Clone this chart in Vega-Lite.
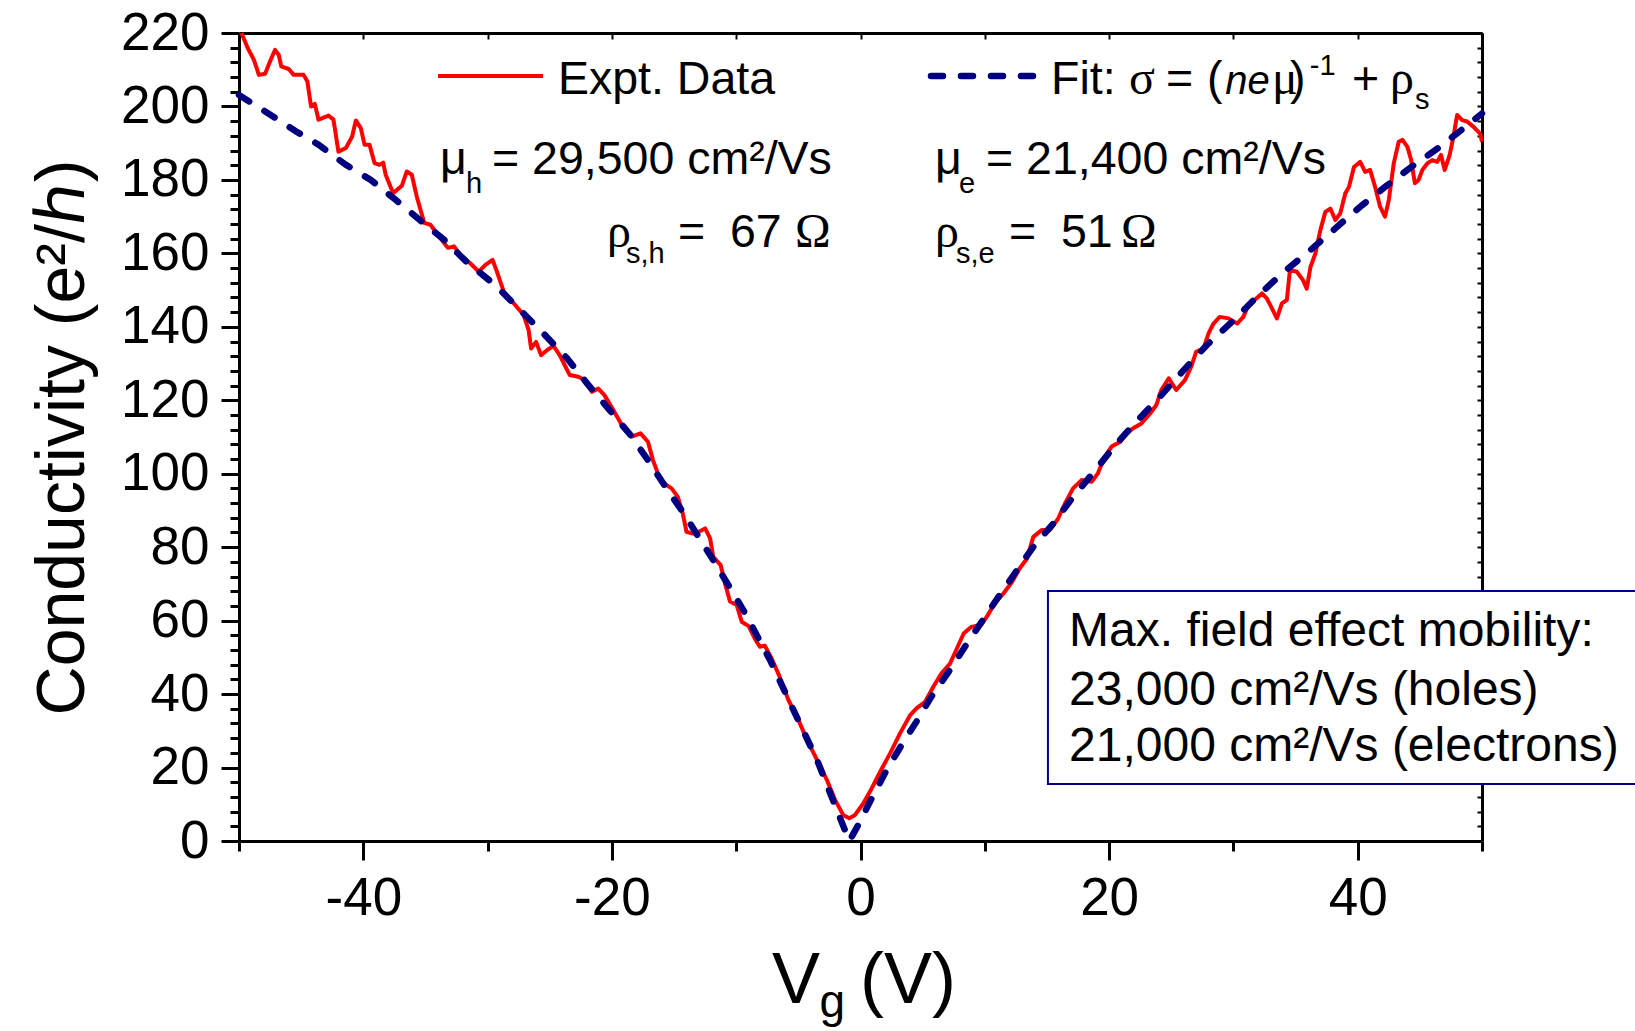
{
  "$schema": "https://vega.github.io/schema/vega-lite/v6.json",
  "width": 1243,
  "height": 808,
  "autosize": "none",
  "padding": {"left": 239, "top": 33, "right": 153, "bottom": 190},
  "background": "white",
  "config": {"view": {"stroke": null}, "font": "Liberation Sans"},
  "datasets": {
    "expt": [
      {"x":-49.8,"y":220},{"x":-49.3,"y":215.9},{"x":-48.8,"y":212.7},{"x":-48.4,"y":208.6},{"x":-47.9,"y":208.9},{"x":-47.45,"y":212.7},{"x":-47.1,"y":215.4},{"x":-46.8,"y":214.0},{"x":-46.6,"y":210.9},{"x":-46.0,"y":210.2},{"x":-45.6,"y":208.6},{"x":-44.8,"y":208.6},{"x":-44.5,"y":206.8},{"x":-44.2,"y":200.0},{"x":-43.9,"y":200.7},{"x":-43.6,"y":196.4},{"x":-42.8,"y":197.5},{"x":-42.4,"y":196.4},{"x":-42.0,"y":187.7},{"x":-41.4,"y":188.7},{"x":-40.9,"y":191.8},{"x":-40.6,"y":196.2},{"x":-40.2,"y":194.1},{"x":-39.9,"y":189.6},{"x":-39.5,"y":189.6},{"x":-39.1,"y":184.6},{"x":-38.7,"y":184.1},{"x":-38.4,"y":184.7},{"x":-38.2,"y":181.4},{"x":-37.6,"y":176.4},{"x":-36.9,"y":178.4},{"x":-36.5,"y":182.3},{"x":-36.1,"y":181.4},{"x":-35.7,"y":175.5},{"x":-35.1,"y":168.3},{"x":-34.6,"y":167.8},{"x":-33.9,"y":164.6},{"x":-33.2,"y":161.5},{"x":-32.7,"y":161.9},{"x":-32.2,"y":159.6},{"x":-31.4,"y":157.3},{"x":-30.7,"y":155.0},{"x":-30.2,"y":156.8},{"x":-29.6,"y":158.2},{"x":-29.3,"y":155.5},{"x":-28.7,"y":149.6},{"x":-27.9,"y":146.4},{"x":-27.1,"y":143.2},{"x":-26.7,"y":139.1},{"x":-26.5,"y":134.1},{"x":-26.1,"y":135.9},{"x":-25.7,"y":132.3},{"x":-25.2,"y":133.7},{"x":-24.7,"y":134.8},{"x":-24.2,"y":132.3},{"x":-23.8,"y":129.6},{"x":-23.4,"y":126.9},{"x":-22.7,"y":126.4},{"x":-22.2,"y":125.5},{"x":-21.6,"y":122.3},{"x":-21.1,"y":123.2},{"x":-20.6,"y":121.4},{"x":-19.9,"y":117.4},{"x":-19.2,"y":113.3},{"x":-18.4,"y":110.1},{"x":-17.7,"y":111.0},{"x":-17.1,"y":108.7},{"x":-16.7,"y":103.7},{"x":-16.1,"y":98.3},{"x":-15.6,"y":96.9},{"x":-15.2,"y":96.0},{"x":-14.7,"y":93.7},{"x":-14.3,"y":89.2},{"x":-14.0,"y":84.2},{"x":-13.5,"y":83.7},{"x":-13.0,"y":84.2},{"x":-12.5,"y":85.1},{"x":-12.1,"y":82.4},{"x":-11.85,"y":77.4},{"x":-11.25,"y":75.1},{"x":-10.9,"y":70.1},{"x":-10.5,"y":65.2},{"x":-9.96,"y":64.3},{"x":-9.56,"y":59.7},{"x":-9.0,"y":58.5},{"x":-8.5,"y":55.1},{"x":-8.1,"y":52.9},{"x":-7.7,"y":53.2},{"x":-7.15,"y":49.7},{"x":-6.5,"y":44.7},{"x":-5.8,"y":38.4},{"x":-5.1,"y":33.8},{"x":-4.3,"y":27.5},{"x":-3.5,"y":22.1},{"x":-2.7,"y":16.6},{"x":-2.05,"y":11.2},{"x":-1.4,"y":7.1},{"x":-0.9,"y":6.2},{"x":-0.44,"y":7.1},{"x":0.22,"y":10.2},{"x":0.9,"y":14.3},{"x":1.57,"y":18.8},{"x":2.37,"y":23.8},{"x":3.18,"y":29.3},{"x":4.0,"y":34.3},{"x":4.5,"y":36.1},{"x":5.2,"y":37.9},{"x":5.86,"y":42.0},{"x":6.5,"y":45.6},{"x":7.2,"y":48.3},{"x":7.7,"y":52.0},{"x":8.3,"y":56.5},{"x":8.9,"y":58.3},{"x":9.7,"y":58.8},{"x":10.15,"y":61.0},{"x":10.8,"y":64.7},{"x":11.5,"y":67.4},{"x":12.2,"y":70.6},{"x":12.8,"y":74.2},{"x":13.4,"y":76.9},{"x":13.9,"y":82.8},{"x":14.6,"y":84.7},{"x":15.25,"y":84.7},{"x":15.9,"y":87.8},{"x":16.45,"y":91.9},{"x":17.1,"y":96.0},{"x":17.8,"y":98.3},{"x":18.6,"y":97.8},{"x":19.1,"y":100.1},{"x":19.6,"y":104.3},{"x":20.2,"y":107.4},{"x":20.9,"y":108.7},{"x":21.4,"y":111.0},{"x":21.9,"y":112.3},{"x":22.6,"y":113.7},{"x":23.3,"y":116.4},{"x":23.8,"y":118.7},{"x":24.2,"y":122.8},{"x":24.8,"y":126.0},{"x":25.4,"y":122.8},{"x":26.1,"y":125.5},{"x":26.6,"y":129.1},{"x":27.0,"y":133.2},{"x":27.6,"y":134.1},{"x":28.0,"y":138.2},{"x":28.4,"y":140.9},{"x":28.9,"y":142.7},{"x":29.6,"y":142.3},{"x":30.3,"y":140.9},{"x":30.8,"y":142.7},{"x":31.2,"y":145.9},{"x":31.7,"y":147.3},{"x":32.3,"y":149.1},{"x":32.7,"y":147.7},{"x":33.1,"y":145.0},{"x":33.5,"y":142.3},{"x":33.9,"y":146.4},{"x":34.3,"y":147.3},{"x":34.55,"y":155.5},{"x":35.1,"y":155.0},{"x":35.6,"y":152.7},{"x":35.9,"y":150.4},{"x":36.2,"y":156.3},{"x":36.6,"y":160.0},{"x":37.0,"y":166.4},{"x":37.4,"y":171.3},{"x":37.8,"y":172.2},{"x":38.2,"y":169.1},{"x":38.6,"y":170.9},{"x":39.0,"y":176.3},{"x":39.3,"y":178.1},{"x":39.7,"y":183.5},{"x":40.2,"y":184.9},{"x":40.6,"y":182.2},{"x":41.0,"y":182.7},{"x":41.4,"y":178.1},{"x":41.8,"y":172.7},{"x":42.2,"y":170.0},{"x":42.5,"y":174.5},{"x":42.9,"y":184.5},{"x":43.3,"y":190.4},{"x":43.6,"y":190.9},{"x":44.0,"y":189.0},{"x":44.3,"y":185.4},{"x":44.6,"y":179.1},{"x":44.9,"y":180.0},{"x":45.2,"y":182.7},{"x":45.6,"y":184.5},{"x":46.0,"y":185.4},{"x":46.4,"y":184.9},{"x":46.7,"y":186.8},{"x":47.0,"y":182.7},{"x":47.4,"y":186.8},{"x":47.7,"y":191.7},{"x":48.0,"y":197.7},{"x":48.4,"y":196.3},{"x":48.8,"y":195.9},{"x":49.3,"y":194.5},{"x":49.85,"y":192.6},{"x":50.0,"y":190.4}
    ],
    "fit": [
      {"x":-50,"y":203.1},{"x":-47.45,"y":197.7},{"x":-45.4,"y":193.2},{"x":-43.6,"y":189.6},{"x":-41.4,"y":184.1},{"x":-39.4,"y":180.0},{"x":-37.4,"y":174.6},{"x":-35.5,"y":169.2},{"x":-33.5,"y":163.7},{"x":-31.7,"y":157.7},{"x":-29.4,"y":151.4},{"x":-27.5,"y":145.0},{"x":-25.4,"y":137.8},{"x":-23.6,"y":131.4},{"x":-22.0,"y":124.6},{"x":-20.2,"y":117.4},{"x":-18.5,"y":110.5},{"x":-17.1,"y":103.7},{"x":-15.6,"y":96.0},{"x":-14.3,"y":89.6},{"x":-11.85,"y":76.5},{"x":-9.43,"y":62.9},{"x":-7.28,"y":49.3},{"x":-5.4,"y":35.7},{"x":-3.5,"y":22.1},{"x":-1.9,"y":8.4},{"x":-0.9,"y":0.0},{"x":-0.18,"y":4.4},{"x":0.9,"y":11.6},{"x":2.1,"y":19.3},{"x":3.3,"y":26.1},{"x":4.5,"y":32.5},{"x":5.7,"y":39.3},{"x":7.1,"y":46.1},{"x":8.4,"y":52.9},{"x":9.75,"y":59.7},{"x":11.1,"y":66.5},{"x":12.4,"y":72.8},{"x":13.9,"y":80.1},{"x":15.5,"y":86.4},{"x":17.1,"y":93.7},{"x":18.9,"y":101.0},{"x":20.5,"y":107.8},{"x":22.2,"y":114.2},{"x":24.1,"y":121.0},{"x":26.0,"y":128.2},{"x":27.85,"y":135.0},{"x":29.9,"y":141.4},{"x":31.9,"y":148.2},{"x":33.9,"y":154.5},{"x":36.2,"y":160.9},{"x":38.2,"y":166.8},{"x":40.2,"y":172.7},{"x":42.2,"y":178.1},{"x":44.3,"y":183.5},{"x":46.4,"y":188.5},{"x":48.5,"y":194.0},{"x":50,"y":198.1}
    ],
    "legExpt": [{"x":-33.99,"y":208.3},{"x":-25.54,"y":208.3}],
    "legFit": [{"x":5.67,"y":208.3},{"x":14.68,"y":208.3}],
    "box": [{"x":15.08,"x2":64,"y":68.1,"y2":15.5}],
    "txtMain": [
      {"x":-24.34,"y":203.4,"text":"Expt. Data"},
      {"x":15.33,"y":203.4,"text":"Fit:"},
      {"x":24.58,"y":203.4,"text":"="},
      {"x":27.88,"y":203.4,"text":"("},
      {"x":34.55,"y":203.4,"text":")"},
      {"x":39.54,"y":203.4,"text":"+"},
      {"x":-33.83,"y":181.6,"text":"μ"},
      {"x":-29.65,"y":181.6,"text":"= 29,500 cm²/Vs"},
      {"x":6.0,"y":181.6,"text":"μ"},
      {"x":10.1,"y":181.6,"text":"= 21,400 cm²/Vs"},
      {"x":-14.68,"y":161.7,"text":"="},
      {"x":-10.5,"y":161.7,"text":"67"},
      {"x":11.95,"y":161.7,"text":"="},
      {"x":16.13,"y":161.7,"text":"51"}
    ],
    "txtBox": [
      {"x":16.78,"y":53.1,"text":"Max. field effect mobility:"},
      {"x":16.78,"y":37.0,"text":"23,000 cm²/Vs (holes)"},
      {"x":16.78,"y":21.8,"text":"21,000 cm²/Vs (electrons)"}
    ],
    "txtSerif": [
      {"x":21.6,"y":203.4,"text":"σ"},
      {"x":33.1,"y":203.4,"text":"μ"},
      {"x":42.6,"y":203.4,"text":"ρ"},
      {"x":-20.4,"y":161.7,"text":"ρ"},
      {"x":6.0,"y":161.7,"text":"ρ"},
      {"x":-5.27,"y":161.7,"text":"Ω"},
      {"x":20.96,"y":161.7,"text":"Ω"}
    ],
    "txtItalic": [{"x":29.35,"y":203.4,"text":"ne"}],
    "txtSmall": [
      {"x":36.15,"y":208.6,"text":"-1"},
      {"x":44.6,"y":199.3,"text":"s"},
      {"x":-31.74,"y":176.4,"text":"h"},
      {"x":7.93,"y":176.4,"text":"e"},
      {"x":-18.87,"y":157.4,"text":"s,h"},
      {"x":7.68,"y":157.4,"text":"s,e"}
    ],
    "xTitle": [
      {"x":-7.12,"y":-44.1,"text":"V"},
      {"x":-0.04,"y":-44.1,"text":"(V)"}
    ],
    "xTitleSub": [{"x":-3.3,"y":-47.9,"text":"g"}]
  },
  "layer": [
    {
      "data": {"name": "expt"},
      "mark": {"type": "line", "color": "#ff0000", "strokeWidth": 4, "strokeJoin": "round"},
      "encoding": {
        "x": {
          "field": "x", "type": "quantitative",
          "scale": {"domain": [-50, 50], "nice": false, "zero": false},
          "axis": {
            "orient": "bottom", "title": null, "grid": false,
            "values": [-50,-40,-30,-20,-10,0,10,20,30,40,50],
            "labelExpr": "datum.value % 20 === 0 ? (datum.value < 0 ? '-' : '') + abs(datum.value) : ''",
            "tickSize": {"condition": {"test": "datum.value % 20 === 0", "value": 19}, "value": 10},
            "tickWidth": 3, "tickColor": "black",
            "domainWidth": 3, "domainColor": "black",
            "labelFont": "Liberation Sans", "labelFontSize": 53, "labelColor": "black",
            "labelPadding": 12, "labelFlush": false, "labelOverlap": false
          }
        },
        "y": {
          "field": "y", "type": "quantitative",
          "scale": {"domain": [0, 220], "nice": false, "zero": false},
          "axis": {
            "orient": "left", "title": "Conductivity (e²/ℎ)", "grid": false,
            "values": [0,4,8,12,16,20,24,28,32,36,40,44,48,52,56,60,64,68,72,76,80,84,88,92,96,100,104,108,112,116,120,124,128,132,136,140,144,148,152,156,160,164,168,172,176,180,184,188,192,196,200,204,208,212,216,220],
            "labelExpr": "datum.value % 20 === 0 ? datum.label : ''",
            "tickSize": {"condition": {"test": "datum.value % 20 === 0", "value": 18}, "value": 9},
            "tickWidth": 3, "tickColor": "black",
            "domainWidth": 3, "domainColor": "black",
            "labelFont": "Liberation Sans", "labelFontSize": 53, "labelColor": "black",
            "labelPadding": 12, "labelOverlap": false, "labelFlush": false,
            "titleFont": "Liberation Sans", "titleFontSize": 68, "titleFontWeight": "normal",
            "titleColor": "black", "titlePadding": 23
          }
        }
      }
    },
    {
      "data": {"name": "fit"},
      "mark": {"type": "line", "color": "#000080", "strokeWidth": 6.5, "strokeDash": [12, 18], "strokeCap": "round"},
      "encoding": {
        "x": {"field": "x", "type": "quantitative", "axis": null},
        "y": {"field": "y", "type": "quantitative", "axis": null}
      }
    },
    {
      "data": {"name": "legExpt"},
      "mark": {"type": "line", "color": "#ff0000", "strokeWidth": 4},
      "encoding": {
        "x": {"field": "x", "type": "quantitative",
          "axis": {"orient": "top", "title": null, "grid": false, "labels": false,
            "values": [-50,-40,-30,-20,-10,0,10,20,30,40,50],
            "tickSize": -6, "tickWidth": 2, "tickColor": "black",
            "domainWidth": 3, "domainColor": "black"}},
        "y": {"field": "y", "type": "quantitative",
          "axis": {"orient": "right", "title": null, "grid": false, "labels": false,
            "values": [0,4,8,12,16,20,24,28,32,36,40,44,48,52,56,60,64,68,72,76,80,84,88,92,96,100,104,108,112,116,120,124,128,132,136,140,144,148,152,156,160,164,168,172,176,180,184,188,192,196,200,204,208,212,216,220],
            "tickSize": -5, "tickWidth": 2, "tickColor": "black",
            "domainWidth": 3, "domainColor": "black"}}
      }
    },
    {
      "data": {"name": "legFit"},
      "mark": {"type": "line", "color": "#000080", "strokeWidth": 6.5, "strokeDash": [12, 18], "strokeCap": "round"},
      "encoding": {
        "x": {"field": "x", "type": "quantitative", "axis": null},
        "y": {"field": "y", "type": "quantitative", "axis": null}
      }
    },
    {
      "data": {"name": "box"},
      "mark": {"type": "rect", "fill": "white", "stroke": "#000080", "strokeWidth": 2},
      "encoding": {
        "x": {"field": "x", "type": "quantitative", "axis": null},
        "x2": {"field": "x2"},
        "y": {"field": "y", "type": "quantitative", "axis": null},
        "y2": {"field": "y2"}
      }
    },
    {
      "data": {"name": "txtMain"},
      "mark": {"type": "text", "align": "left", "baseline": "alphabetic", "font": "Liberation Sans", "fontSize": 46.5, "color": "black"},
      "encoding": {
        "x": {"field": "x", "type": "quantitative", "axis": null},
        "y": {"field": "y", "type": "quantitative", "axis": null},
        "text": {"field": "text"}
      }
    },
    {
      "data": {"name": "txtBox"},
      "mark": {"type": "text", "align": "left", "baseline": "alphabetic", "font": "Liberation Sans", "fontSize": 48, "color": "black"},
      "encoding": {
        "x": {"field": "x", "type": "quantitative", "axis": null},
        "y": {"field": "y", "type": "quantitative", "axis": null},
        "text": {"field": "text"}
      }
    },
    {
      "data": {"name": "txtSerif"},
      "mark": {"type": "text", "align": "left", "baseline": "alphabetic", "font": "Liberation Serif", "fontSize": 48, "color": "black"},
      "encoding": {
        "x": {"field": "x", "type": "quantitative", "axis": null},
        "y": {"field": "y", "type": "quantitative", "axis": null},
        "text": {"field": "text"}
      }
    },
    {
      "data": {"name": "txtItalic"},
      "mark": {"type": "text", "align": "left", "baseline": "alphabetic", "font": "Liberation Sans", "fontStyle": "italic", "fontSize": 40, "color": "black"},
      "encoding": {
        "x": {"field": "x", "type": "quantitative", "axis": null},
        "y": {"field": "y", "type": "quantitative", "axis": null},
        "text": {"field": "text"}
      }
    },
    {
      "data": {"name": "txtSmall"},
      "mark": {"type": "text", "align": "left", "baseline": "alphabetic", "font": "Liberation Sans", "fontSize": 29, "color": "black"},
      "encoding": {
        "x": {"field": "x", "type": "quantitative", "axis": null},
        "y": {"field": "y", "type": "quantitative", "axis": null},
        "text": {"field": "text"}
      }
    },
    {
      "data": {"name": "xTitle"},
      "mark": {"type": "text", "align": "left", "baseline": "alphabetic", "font": "Liberation Sans", "fontSize": 72, "color": "black"},
      "encoding": {
        "x": {"field": "x", "type": "quantitative", "axis": null},
        "y": {"field": "y", "type": "quantitative", "axis": null},
        "text": {"field": "text"}
      }
    },
    {
      "data": {"name": "xTitleSub"},
      "mark": {"type": "text", "align": "left", "baseline": "alphabetic", "font": "Liberation Sans", "fontSize": 46, "color": "black"},
      "encoding": {
        "x": {"field": "x", "type": "quantitative", "axis": null},
        "y": {"field": "y", "type": "quantitative", "axis": null},
        "text": {"field": "text"}
      }
    }
  ]
}
